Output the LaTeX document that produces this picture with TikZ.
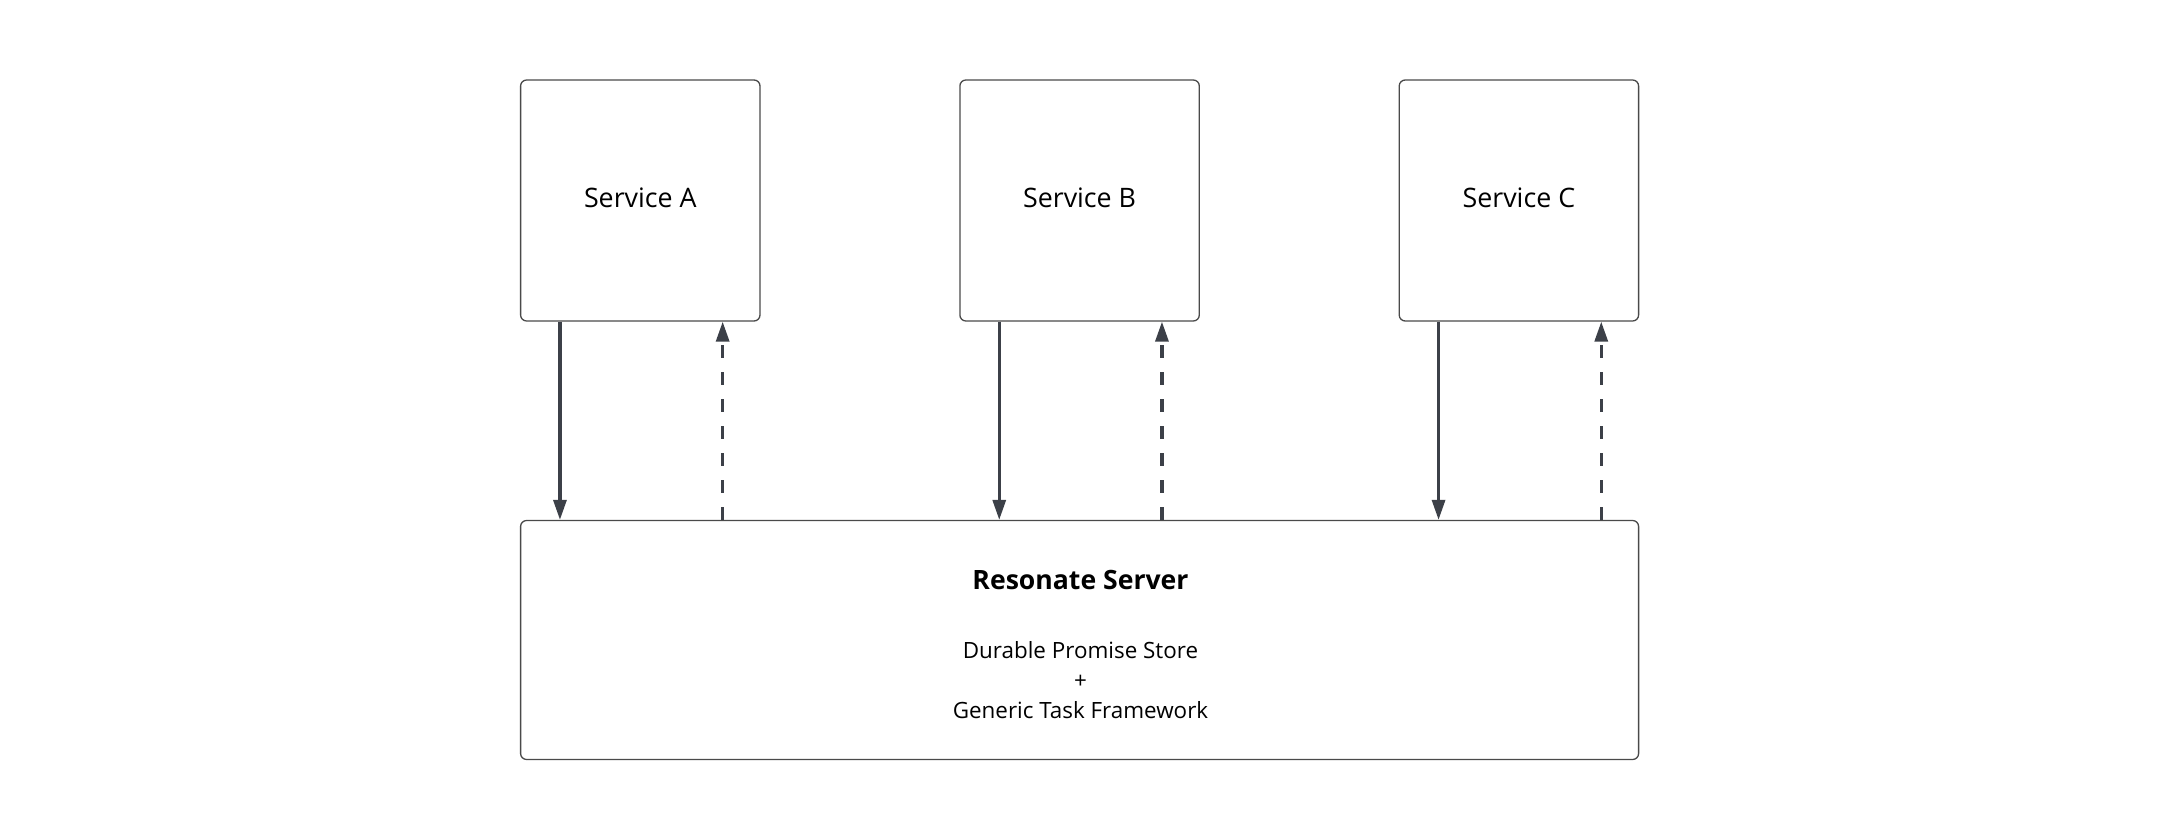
\documentclass[tikz,border=0pt]{standalone}
\usepackage{fontspec}
\setmainfont{Open Sans}
\usetikzlibrary{arrows.meta}
\usetikzlibrary{positioning}
\definecolor{linegray}{HTML}{3C4048}
\definecolor{boxgray}{HTML}{4A4A4A}
\tikzset{
	service/.style={draw=boxgray, line width=0.65pt, rounded corners=3pt,
		minimum width=119.7pt, minimum height=120.5pt, inner sep=0pt,
		text depth=3pt, font=\fontsize{13.4pt}{16pt}\selectfont},
	serverbox/.style={draw=boxgray, line width=0.65pt, rounded corners=3pt,
		minimum width=559pt, minimum height=119.5pt, inner sep=0pt},
	request/.style={draw=linegray, line width=1.6pt,
		-{Triangle[length=10pt, width=6.5pt]}},
	reply/.style={draw=linegray, line width=1.6pt, dash pattern=on 6.5pt off 7pt,
		-{Triangle[length=10pt, width=6.5pt]}},
}
\begin{document}
\begin{tikzpicture}[x=0.5pt, y=-0.5pt]
		\useasboundingbox (0,0) rectangle (2160,840);
		\node[service] (svcA) at (640.3,200.5) {Service A};
		\node[service, right=99.3pt of svcA] (svcB) {Service B};
		\node[service, right=99.3pt of svcB] (svcC) {Service C};
		\node[serverbox] (server) at (1079.6,640) {};
		\node[font=\fontsize{13.3pt}{16pt}\selectfont\bfseries] (title)
			at (1080.5,580) {Resonate Server};
		\node[align=center, font=\fontsize{11.2pt}{15pt}\selectfont] (store)
			at (1080.5,680) {Durable Promise Store\\+\\Generic Task Framework};
		\foreach \s in {svcA,svcB,svcC} {
			\path ([xshift=20pt]\s.south west) coordinate (\s-out);
			\path ([xshift=-19pt]\s.south east) coordinate (\s-in);
			\draw[request] (\s-out) -- (\s-out |- server.north);
			\draw[reply] (\s-in |- server.north) -- (\s-in);
		}
\end{tikzpicture}
\end{document}
